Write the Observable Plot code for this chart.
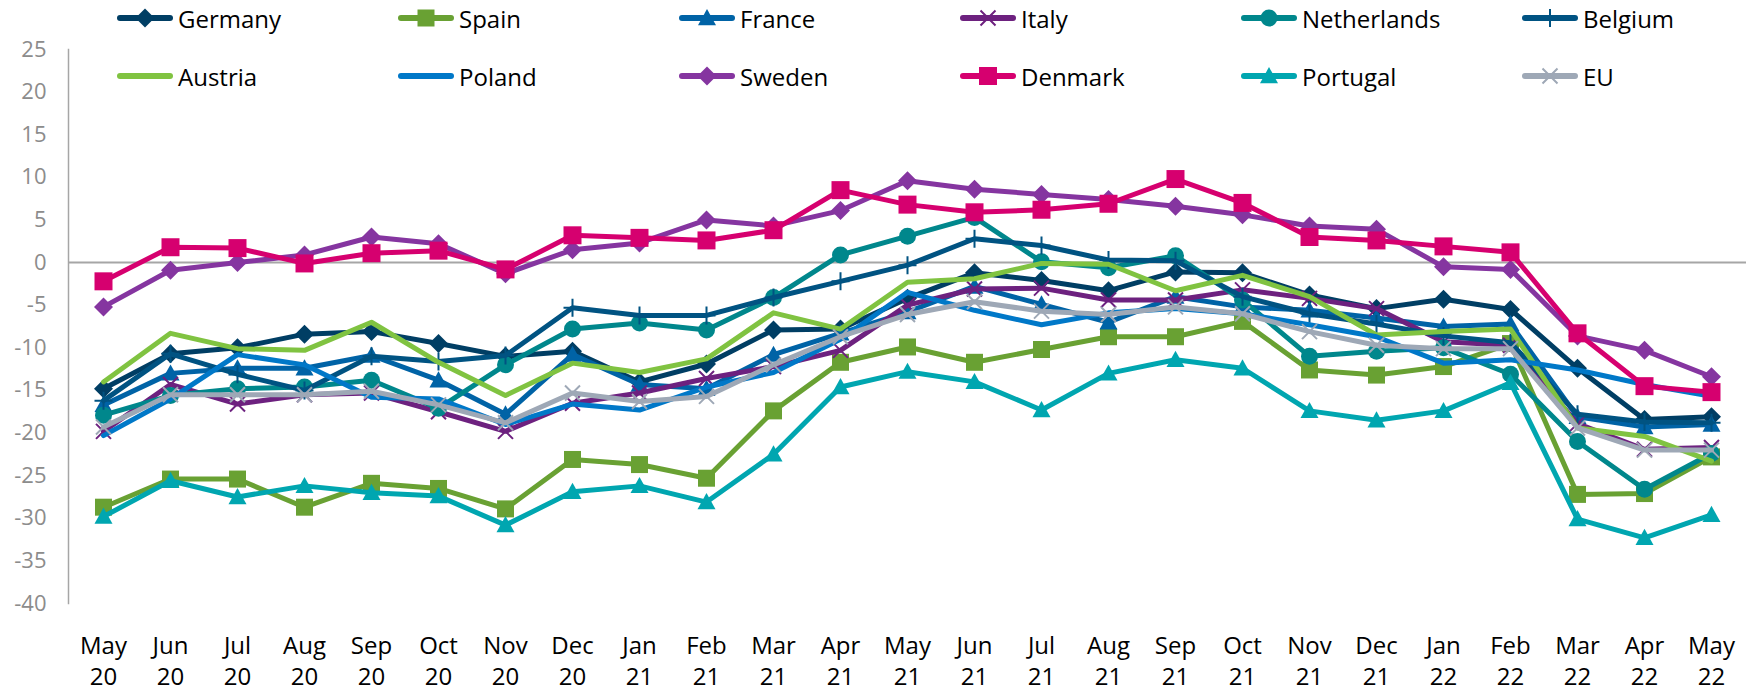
<!DOCTYPE html>
<html><head><meta charset="utf-8">
<script src="https://cdn.jsdelivr.net/npm/d3@7"></script>
<script src="https://cdn.jsdelivr.net/npm/@observablehq/plot@0.6"></script>
<style>
body{margin:0;background:#fff;}
#wrap{position:relative;width:1758px;height:693px;font-family:"Open Sans",sans-serif;}
#legend{position:absolute;left:0;top:0;width:1758px;height:100px;pointer-events:none;}
.item{position:absolute;display:flex;align-items:center;height:32px;font-size:24px;color:#000;white-space:nowrap;}
.item svg{display:block;margin-right:4px;}
</style></head><body>
<div id="wrap"><div id="chart"></div><div id="legend"></div></div>
<script>
const months = ["May 20","Jun 20","Jul 20","Aug 20","Sep 20","Oct 20","Nov 20","Dec 20",
  "Jan 21","Feb 21","Mar 21","Apr 21","May 21","Jun 21","Jul 21","Aug 21","Sep 21","Oct 21","Nov 21","Dec 21",
  "Jan 22","Feb 22","Mar 22","Apr 22","May 22"];
const germany     = [-14.8,-10.7,-10.0,-8.4,-8.1,-9.5,-11.0,-10.4,-14.0,-11.9,-7.9,-7.8,-4.2,-1.2,-2.1,-3.3,-1.1,-1.2,-3.8,-5.4,-4.3,-5.5,-12.4,-18.4,-18.1];
const spain       = [-28.7,-25.4,-25.4,-28.7,-25.9,-26.5,-28.9,-23.1,-23.7,-25.3,-17.4,-11.7,-9.9,-11.7,-10.2,-8.7,-8.7,-6.9,-12.6,-13.2,-12.2,-9.5,-27.2,-27.1,-22.8];
const france      = [-16.7,-13.0,-12.4,-12.4,-10.9,-13.8,-17.8,-10.8,-14.3,-14.8,-10.8,-8.3,-5.8,-2.8,-4.9,-7.0,-4.0,-5.2,-5.6,-6.5,-7.5,-7.2,-18.1,-19.3,-19.0];
const italy       = [-19.8,-14.3,-16.6,-15.5,-15.3,-17.5,-19.8,-16.5,-15.3,-13.6,-12.2,-10.3,-5.0,-3.1,-3.0,-4.4,-4.4,-3.2,-4.2,-5.4,-9.3,-9.7,-18.9,-21.9,-21.7];
const netherlands = [-17.9,-15.6,-14.8,-14.6,-13.8,-17.1,-12.0,-7.8,-7.1,-7.9,-4.1,0.9,3.1,5.3,0.1,-0.6,0.8,-4.4,-11.0,-10.4,-10.0,-13.1,-21.0,-26.6,-22.4];
const belgium     = [-16.2,-10.7,-13.1,-15.0,-11.0,-11.6,-10.9,-5.3,-6.2,-6.2,-4.1,-2.2,-0.3,2.8,2.0,0.3,0.2,-4.0,-6.0,-7.2,-8.6,-9.4,-17.8,-18.7,-18.8];
const austria     = [-14.0,-8.3,-10.1,-10.3,-7.0,-11.7,-15.6,-11.8,-12.9,-11.3,-5.9,-7.8,-2.3,-1.9,-0.1,-0.2,-3.3,-1.5,-4.0,-8.5,-8.1,-7.8,-19.4,-20.4,-23.3];
const poland      = [-20.3,-16.0,-10.8,-12.0,-15.8,-16.0,-19.0,-16.6,-17.3,-14.6,-12.9,-9.0,-3.5,-5.6,-7.3,-5.9,-5.4,-6.0,-7.3,-8.7,-11.8,-11.4,-12.6,-14.3,-15.7];
const sweden      = [-5.2,-0.9,0.0,0.9,3.0,2.2,-1.3,1.5,2.3,5.0,4.3,6.1,9.6,8.6,8.0,7.4,6.6,5.6,4.3,3.9,-0.5,-0.8,-8.6,-10.3,-13.4];
const denmark     = [-2.2,1.8,1.7,-0.1,1.1,1.4,-0.8,3.2,2.9,2.6,3.8,8.5,6.8,5.9,6.2,6.9,9.8,7.0,3.0,2.6,1.9,1.2,-8.3,-14.5,-15.2];
const portugal    = [-29.8,-25.6,-27.5,-26.2,-27.0,-27.4,-30.8,-26.9,-26.2,-28.1,-22.5,-14.6,-12.8,-14.0,-17.3,-13.0,-11.4,-12.4,-17.4,-18.5,-17.4,-14.1,-30.1,-32.3,-29.6];
const eu          = [-19.3,-15.5,-15.5,-15.5,-15.1,-16.7,-18.8,-15.3,-16.3,-15.7,-12.0,-8.7,-6.1,-4.6,-5.7,-6.1,-5.2,-6.0,-8.1,-9.7,-10.1,-10.1,-19.4,-22.0,-22.0];
const yTicks = [25,20,15,10,5,0,-5,-10,-15,-20,-25,-30,-35,-40];

// custom marker shapes (size = pi*r^2)
const R = s => Math.sqrt(s / Math.PI);
const diamond = {draw(c, s){const r=R(s); c.moveTo(0,-r); c.lineTo(r,0); c.lineTo(0,r); c.lineTo(-r,0); c.closePath();}};
const square = {draw(c, s){const r=R(s); c.rect(-r,-r,2*r,2*r);}};
const triangle = {draw(c, s){const r=R(s); c.moveTo(0,-r); c.lineTo(r,r*0.8); c.lineTo(-r,r*0.8); c.closePath();}};
const circle = {draw(c, s){const r=R(s); c.moveTo(r,0); c.arc(0,0,r,0,2*Math.PI);}};
const times = {draw(c, s){const r=R(s); c.moveTo(-r,-r); c.lineTo(r,r); c.moveTo(r,-r); c.lineTo(-r,r);}};
const plus = {draw(c, s){const r=R(s); c.moveTo(0,-r); c.lineTo(0,r); c.moveTo(-r,0); c.lineTo(r,0);}};

const series = [
  {name:"Germany", values:germany, color:"#003e64", sym:diamond, r:9.5, filled:true},
  {name:"Spain", values:spain, color:"#69a133", sym:square, r:8.5, filled:true},
  {name:"France", values:france, color:"#0063a6", sym:triangle, r:9, filled:true},
  {name:"Italy", values:italy, color:"#6d217f", sym:times, r:7.5, filled:false},
  {name:"Netherlands", values:netherlands, color:"#00878c", sym:circle, r:8.5, filled:true},
  {name:"Belgium", values:belgium, color:"#005382", sym:plus, r:9, filled:false},
  {name:"Austria", values:austria, color:"#80c341", sym:null},
  {name:"Poland", values:poland, color:"#0078c8", sym:null},
  {name:"Sweden", values:sweden, color:"#8535a0", sym:diamond, r:9.5, filled:true},
  {name:"Denmark", values:denmark, color:"#d6006f", sym:square, r:9, filled:true},
  {name:"Portugal", values:portugal, color:"#00a6b0", sym:triangle, r:9, filled:true},
  {name:"EU", values:eu, color:"#9ea8b6", sym:times, r:7.5, filled:false}
];

const marks = [
  Plot.ruleY([0], {stroke:"#a6a6a6", strokeWidth:2}),
  Plot.frame({anchor:"left", stroke:"#a6a6a6", strokeWidth:1.5}),
  Plot.axisY({ticks: yTicks, tickSize:0, tickPadding:22, fontSize:22, color:"#8c8c8c", label:null, tickFormat: d => String(d)}),
  Plot.axisX({tickSize:0, tickPadding:28, fontSize:24, lineHeight:1.3, color:"#000", label:null, tickFormat: d => d.replace(" ", "\n")})
];
for (const s of series) {
  const rows = months.map((m, i) => ({month: m, value: s.values[i]}));
  marks.push(Plot.line(rows, {x:"month", y:"value", stroke:s.color, strokeWidth:5, strokeLinejoin:"round", strokeLinecap:"round"}));
  if (s.sym) {
    marks.push(Plot.dot(rows, {x:"month", y:"value", symbol:s.sym, r:s.r,
      fill: s.filled ? s.color : "none", stroke: s.filled ? "none" : s.color, strokeWidth: s.filled ? 0 : 2}));
  }
}

const chart = Plot.plot({
  width:1758, height:693,
  marginLeft:68, marginRight:12, marginTop:49, marginBottom:90,
  style:{fontFamily:"Open Sans, sans-serif", background:"#fff"},
  x:{type:"point", domain:months, padding:0.5, label:null},
  y:{domain:[-40,25], label:null},
  marks
});
document.getElementById("chart").appendChild(chart);

// legend
const legend = document.getElementById("legend");
series.forEach((s, i) => {
  const col = i % 6, row = Math.floor(i / 6);
  const div = document.createElement("div");
  div.className = "item";
  div.style.left = (116 + col * 281) + "px";
  div.style.top = (row === 0 ? 2 : 60) + "px";
  const svg = d3.create("svg").attr("width", 58).attr("height", 32);
  svg.append("line").attr("x1", 4).attr("x2", 54).attr("y1", 16).attr("y2", 16)
    .attr("stroke", s.color).attr("stroke-width", 6).attr("stroke-linecap", "round");
  if (s.sym) {
    svg.append("path").attr("transform", "translate(29,16)")
      .attr("d", d3.symbol().type(s.sym).size(Math.PI * s.r * s.r)())
      .attr("fill", s.filled ? s.color : "none")
      .attr("stroke", s.filled ? "none" : s.color).attr("stroke-width", 2);
  }
  div.appendChild(svg.node());
  const t = document.createElement("span");
  t.textContent = s.name;
  div.appendChild(t);
  legend.appendChild(div);
});
</script>
</body></html>
